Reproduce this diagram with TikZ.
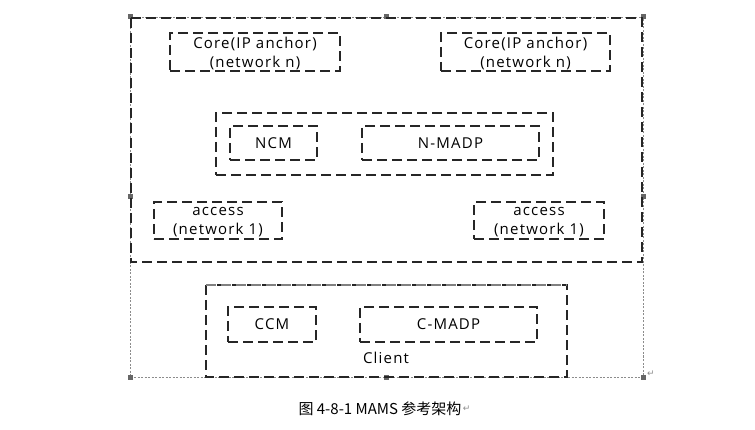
\documentclass[tikz,border=0pt]{standalone}
\usepackage{fontspec}
\setmainfont{Open Sans}[LetterSpace=8]
\newfontfamily\cjkfont{Noto Sans CJK SC}
\newfontfamily\symfont{DejaVu Sans}
\begin{document}
\begin{tikzpicture}[x=1pt,y=-1pt,
  dbox/.style={draw=black!85,line width=1.3pt,dash pattern=on 10pt off 5pt},
  frame/.style={draw=black!45,line width=0.6pt,dash pattern=on 2pt off 1.5pt},
  handle/.style={fill=black!60,draw=none},
  lbl/.style={font=\fontsize{15}{18.5}\selectfont,text=black,align=center,inner sep=0pt},
  ret/.style={font=\symfont\fontsize{9}{9}\selectfont,text=black!45,inner sep=0pt}]
\useasboundingbox (0,0) rectangle (755,430);
% word frame
\draw[frame] (130,17) rectangle (643,377);
\foreach \p in {(130,17),(643,17),(130,377),(643,377),(130,197),(643,197),(386,17),(386,377)}
  \fill[handle] \p ++(-2.5,-2.5) rectangle ++(5,5);
% network box
\draw[dbox] (131,18) rectangle (642,262);
\node[dbox,minimum width=170pt,minimum height=38pt,inner sep=0pt] (core1) at (255,52) {};
\node[lbl] (core1t) at ([yshift=-1.5pt]core1.center) {Core(IP anchor)\\(network n)};
\node[dbox,minimum width=169pt,minimum height=38pt,inner sep=0pt] (core2) at (525.5,52) {};
\node[lbl] (core2t) at ([yshift=-1.5pt]core2.center) {Core(IP anchor)\\(network n)};
\node[dbox,minimum width=337pt,minimum height=62pt,inner sep=0pt] (mid) at (384.5,144) {};
\node[dbox,minimum width=87pt,minimum height=34pt,inner sep=0pt] (ncm) at (273.5,143) {};
\node[lbl] (ncmt) at (ncm.center) {NCM};
\node[dbox,minimum width=177pt,minimum height=34pt,inner sep=0pt] (nmadp) at (450.5,143) {};
\node[lbl] (nmadpt) at (nmadp.center) {N-MADP};
\node[dbox,minimum width=128pt,minimum height=37pt,inner sep=0pt] (acc1) at (218,220.5) {};
\node[lbl] (acc1t) at ([yshift=-1.5pt]acc1.center) {access\\(network 1)};
\node[dbox,minimum width=130pt,minimum height=37pt,inner sep=0pt] (acc2) at (539,220.5) {};
\node[lbl] (acc2t) at ([yshift=-1.5pt]acc2.center) {access\\(network 1)};
% client box
\draw[dbox] (206,285) rectangle (567,377);
\draw[dbox,draw=black!50] (206,285) -- (567,285);
\node[dbox,minimum width=88pt,minimum height=35pt,inner sep=0pt] (ccm) at (272,324.5) {};
\node[lbl] (ccmt) at (ccm.center) {CCM};
\node[dbox,minimum width=177pt,minimum height=35pt,inner sep=0pt] (cmadp) at (448.5,324.5) {};
\node[lbl] (cmadpt) at (cmadp.center) {C-MADP};
\node[lbl] (client) at (386,358) {Client};
% return marks and caption
\node[ret,anchor=west] (ret1) at (647,374) {↵};
\node[font=\cjkfont\fontsize{15}{15}\selectfont,inner sep=0pt] (cap) at (380,409) {图 4-8-1 MAMS 参考架构};
\node[ret,anchor=west] (ret2) at ([xshift=1pt]cap.east) {↵};
\end{tikzpicture}
\end{document}
